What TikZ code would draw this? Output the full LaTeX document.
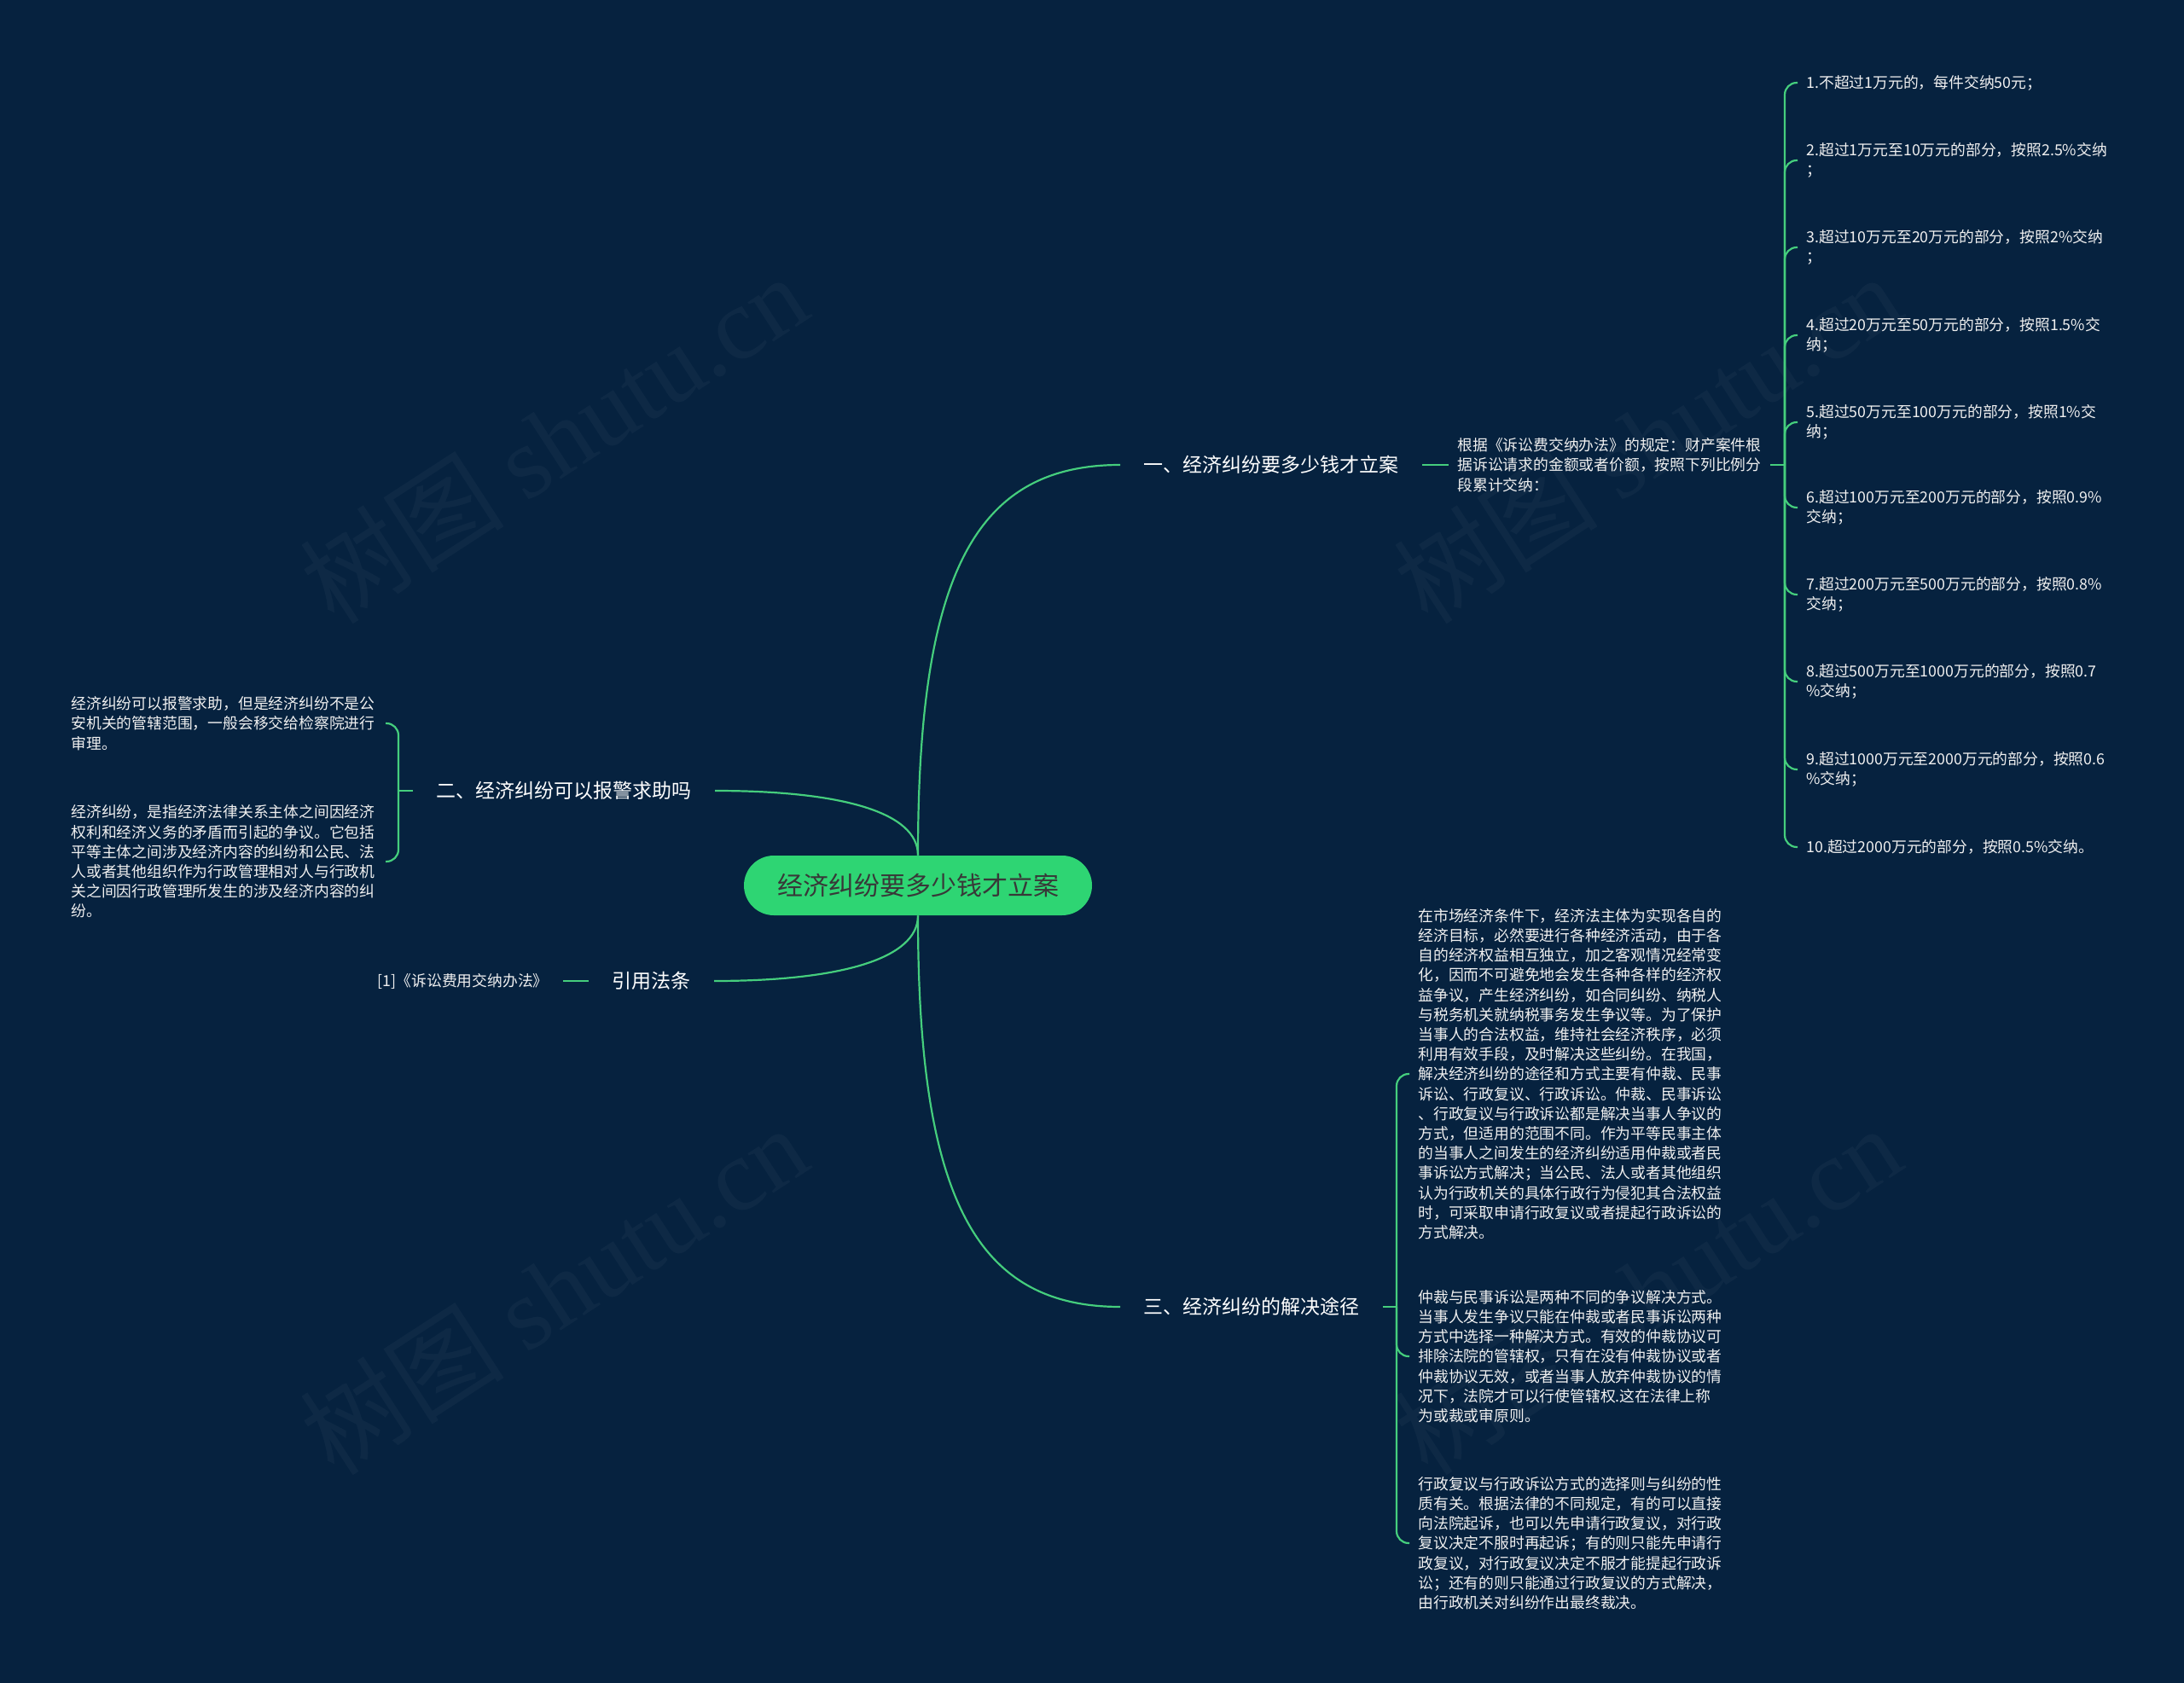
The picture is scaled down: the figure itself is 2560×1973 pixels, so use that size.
\documentclass[tikz,border=0pt]{standalone}
\usepackage{fontspec}
\setmainfont{Noto Sans CJK SC}
\newfontfamily\wmserif{Liberation Serif}
\usepackage{xcolor}
\usepackage{tikz}
\usetikzlibrary{positioning}

\definecolor{navy}{HTML}{06223F}
\definecolor{mint}{HTML}{2ED573}
\definecolor{wire}{HTML}{45CE7D}
\definecolor{paper}{HTML}{F0F0F0}

\begin{document}
\begin{tikzpicture}
      [ x=0.5pt, y=-0.5pt,
        link/.style={draw=wire, line width=1.1pt},
        fork/.style={to path={|- (\tikztotarget)}, rounded corners=7pt},
        hub/.style={fill=mint, rounded corners=17.5pt, minimum width=204pt,
                    minimum height=35pt, text=black!78,
                    font=\fontsize{15}{18}\selectfont},
        topic/.style={inner xsep=13.5pt, inner ysep=2pt, text=white,
                      font=\fontsize{11.5}{14}\selectfont},
        leaf/.style={inner xsep=5pt, inner ysep=2pt, text=paper, align=left,
                     font=\fontsize{8.9}{11.6}\selectfont},
        para/.style={leaf, text width=179pt},
        wmark/.style={rotate=33, text=white, opacity=0.035,
                      font=\fontsize{60}{60}\selectfont}
      ]
      \useasboundingbox (0,0) rectangle (2560,1973);
      \fill[navy] (0,0) rectangle (2560,1973);

      % watermark
      \node[wmark] (wm_1) at (649,514)   {树图 {\wmserif shutu.cn}};
      \node[wmark] (wm_2) at (1931,514)  {树图 {\wmserif shutu.cn}};
      \node[wmark] (wm_3) at (649,1512)  {树图 {\wmserif shutu.cn}};
      \node[wmark] (wm_4) at (1931,1512) {树图 {\wmserif shutu.cn}};

      \node[hub]               (root) at (1076,1038) {经济纠纷要多少钱才立案};

      \node[topic,anchor=west] (t_1)  at (1313,545)  {一、经济纠纷要多少钱才立案};
      \node[topic,anchor=east] (t_2)  at (838,927)   {二、经济纠纷可以报警求助吗};
      \node[topic,anchor=west] (t_3)  at (1313,1532) {三、经济纠纷的解决途径};
      \node[topic,anchor=east] (t_4)  at (837,1150)  {引用法条};

      % branch one
      \node[leaf,anchor=west]  (l_1)  at (1698,545)
        {根据《诉讼费交纳办法》的规定：财产案件根\\据诉讼请求的金额或者价额，按照下列比例分\\段累计交纳：};
      \coordinate (j_1) at (2092,545);
      \node[leaf,anchor=west]  (i_1)  at (2107,97)  {1.不超过1万元的，每件交纳50元；};
      \node[leaf,anchor=west]  (i_2)  at (2107,188) {2.超过1万元至10万元的部分，按照2.5\%交纳\\；};
      \node[leaf,anchor=west]  (i_3)  at (2107,290) {3.超过10万元至20万元的部分，按照2\%交纳\\；};
      \node[leaf,anchor=west]  (i_4)  at (2107,393) {4.超过20万元至50万元的部分，按照1.5\%交\\纳；};
      \node[leaf,anchor=west]  (i_5)  at (2107,495) {5.超过50万元至100万元的部分，按照1\%交\\纳；};
      \node[leaf,anchor=west]  (i_6)  at (2107,595) {6.超过100万元至200万元的部分，按照0.9\%\\交纳；};
      \node[leaf,anchor=west]  (i_7)  at (2107,697) {7.超过200万元至500万元的部分，按照0.8\%\\交纳；};
      \node[leaf,anchor=west]  (i_8)  at (2107,799) {8.超过500万元至1000万元的部分，按照0.7\\\%交纳；};
      \node[leaf,anchor=west]  (i_9)  at (2107,902) {9.超过1000万元至2000万元的部分，按照0.6\\\%交纳；};
      \node[leaf,anchor=west]  (i_10) at (2107,993) {10.超过2000万元的部分，按照0.5\%交纳。};

      % branch two
      \coordinate (j_2) at (467,927);
      \node[para,anchor=east]  (n_1)  at (452,848)
        {经济纠纷可以报警求助，但是经济纠纷不是公\\安机关的管辖范围，一般会移交给检察院进行\\审理。};
      \node[para,anchor=east]  (n_2)  at (452,1010)
        {经济纠纷，是指经济法律关系主体之间因经济\\权利和经济义务的矛盾而引起的争议。它包括\\平等主体之间涉及经济内容的纠纷和公民、法\\人或者其他组织作为行政管理相对人与行政机\\关之间因行政管理所发生的涉及经济内容的纠\\纷。};

      % branch three
      \coordinate (j_3) at (1637,1532);
      \node[para,anchor=west]  (p_1)  at (1652,1259)
        {在市场经济条件下，经济法主体为实现各自的\\经济目标，必然要进行各种经济活动，由于各\\自的经济权益相互独立，加之客观情况经常变\\化，因而不可避免地会发生各种各样的经济权\\益争议，产生经济纠纷，如合同纠纷、纳税人\\与税务机关就纳税事务发生争议等。为了保护\\当事人的合法权益，维持社会经济秩序，必须\\利用有效手段，及时解决这些纠纷。在我国，\\解决经济纠纷的途径和方式主要有仲裁、民事\\诉讼、行政复议、行政诉讼。仲裁、民事诉讼\\、行政复议与行政诉讼都是解决当事人争议的\\方式，但适用的范围不同。作为平等民事主体\\的当事人之间发生的经济纠纷适用仲裁或者民\\事诉讼方式解决；当公民、法人或者其他组织\\认为行政机关的具体行政行为侵犯其合法权益\\时，可采取申请行政复议或者提起行政诉讼的\\方式解决。};
      \node[para,anchor=west]  (p_2)  at (1652,1590)
        {仲裁与民事诉讼是两种不同的争议解决方式。\\当事人发生争议只能在仲裁或者民事诉讼两种\\方式中选择一种解决方式。有效的仲裁协议可\\排除法院的管辖权，只有在没有仲裁协议或者\\仲裁协议无效，或者当事人放弃仲裁协议的情\\况下，法院才可以行使管辖权.这在法律上称\\为或裁或审原则。};
      \node[para,anchor=west]  (p_3)  at (1652,1809)
        {行政复议与行政诉讼方式的选择则与纠纷的性\\质有关。根据法律的不同规定，有的可以直接\\向法院起诉，也可以先申请行政复议，对行政\\复议决定不服时再起诉；有的则只能先申请行\\政复议，对行政复议决定不服才能提起行政诉\\讼；还有的则只能通过行政复议的方式解决，\\由行政机关对纠纷作出最终裁决。};

      % branch four
      \node[leaf,anchor=east,inner xsep=8.5pt] (r_1) at (660,1150) {[1]《诉讼费用交纳办法》};

      % links
      \draw[link] (root.north) .. controls +(0,-330) and +(-170,0) .. (t_1.west);
      \draw[link] (root.south) .. controls +(0,330) and +(-170,0) .. (t_3.west);
      \draw[link] (root.north) .. controls +(0,-50) and +(150,0) .. (t_2.east);
      \draw[link] (root.south) .. controls +(0,50) and +(150,0) .. (t_4.east);

      \path[link] (t_1.east) edge (l_1.west)
                  (l_1.east) edge (j_1)
                  (j_1) edge[fork] (i_1.west)
                        edge[fork] (i_2.west)
                        edge[fork] (i_3.west)
                        edge[fork] (i_4.west)
                        edge[fork] (i_5.west)
                        edge[fork] (i_6.west)
                        edge[fork] (i_7.west)
                        edge[fork] (i_8.west)
                        edge[fork] (i_9.west)
                        edge[fork] (i_10.west);
      \path[link] (t_2.west) edge (j_2)
                  (j_2) edge[fork] (n_1.east)
                        edge[fork] (n_2.east);
      \path[link] (t_3.east) edge (j_3)
                  (j_3) edge[fork] (p_1.west)
                        edge[fork] (p_2.west)
                        edge[fork] (p_3.west);
      \path[link] (t_4.west) edge (r_1.east);
    \end{tikzpicture}
\end{document}
